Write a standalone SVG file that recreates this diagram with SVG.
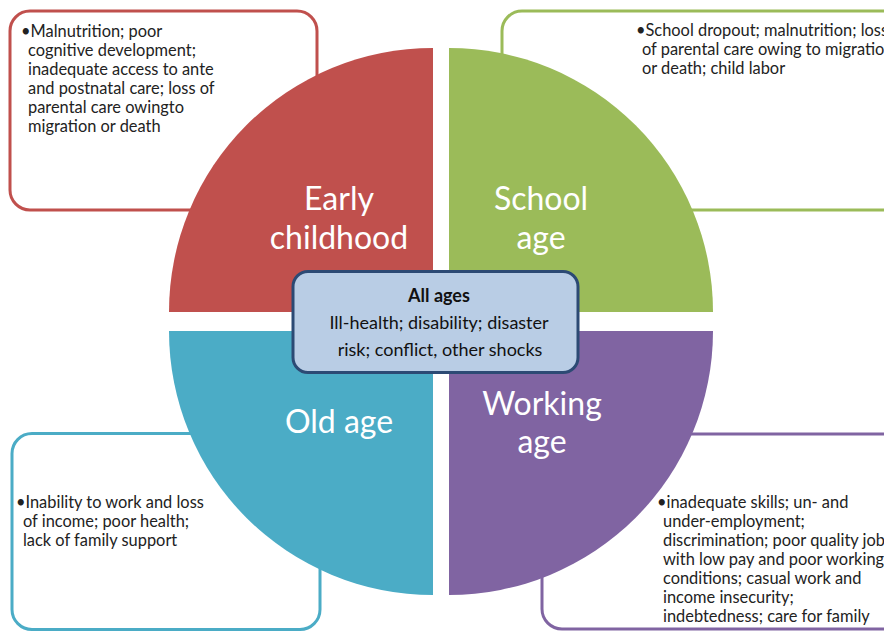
<svg xmlns="http://www.w3.org/2000/svg" width="884" height="633" viewBox="0 0 884 633">
  <style>
    .box { fill: #ffffff; stroke-width: 3; }
    .note { font-family: Lato, "Open Sans", "Liberation Sans", sans-serif; font-size: 16.4px; fill: #222222; }
    .label { font-family: Lato, "Open Sans", "Liberation Sans", sans-serif; font-size: 32px; fill: #ffffff; text-anchor: middle; }
    .core { font-family: Lato, "Open Sans", "Liberation Sans", sans-serif; font-size: 18px; fill: #111111; text-anchor: middle; }
  </style>

  <!-- outlined note boxes behind the wheel -->
  <g id="note-early">
    <rect class="box" x="10" y="11" width="307" height="199" rx="20" stroke="#c0504d"/>
    <text class="note">
      <tspan x="21" y="36.5">•Malnutrition; poor</tspan>
      <tspan x="28" y="55.5">cognitive development;</tspan>
      <tspan x="28" y="74.5">inadequate access to ante</tspan>
      <tspan x="28" y="93.5">and postnatal care; loss of</tspan>
      <tspan x="28" y="112.5">parental care owingto</tspan>
      <tspan x="28" y="131.5">migration or death</tspan>
    </text>
  </g>
  <g id="note-school">
    <rect class="box" x="502" y="11" width="420" height="199" rx="20" stroke="#9bbb59"/>
    <text class="note">
      <tspan x="636" y="36">•School dropout; malnutrition; loss</tspan>
      <tspan x="642" y="55">of parental care owing to migration</tspan>
      <tspan x="642" y="74">or death; child labor</tspan>
    </text>
  </g>
  <g id="note-old">
    <rect class="box" x="12" y="433.5" width="308" height="196" rx="20" stroke="#4bacc6"/>
    <text class="note">
      <tspan x="16" y="508">•Inability to work and loss</tspan>
      <tspan x="23" y="527">of income; poor health;</tspan>
      <tspan x="23" y="546">lack of family support</tspan>
    </text>
  </g>
  <g id="note-working">
    <rect class="box" x="542" y="434" width="380" height="195" rx="20" stroke="#8064a2"/>
    <text class="note">
      <tspan x="657" y="507.5">•inadequate skills; un- and</tspan>
      <tspan x="663" y="526.5">under-employment;</tspan>
      <tspan x="663" y="545.5">discrimination; poor quality jobs</tspan>
      <tspan x="663" y="564.5">with low pay and poor working</tspan>
      <tspan x="663" y="583.5">conditions; casual work and</tspan>
      <tspan x="663" y="602.5">income insecurity;</tspan>
      <tspan x="663" y="621.5">indebtedness; care for family</tspan>
    </text>
  </g>

  <!-- four quarter segments of the life-cycle wheel -->
  <g id="early-childhood">
    <path d="M433 312 L169 312 A264 264 0 0 1 433 48 Z" fill="#c0504d"/>
    <text class="label"><tspan x="339" y="210">Early</tspan><tspan x="339" y="249">childhood</tspan></text>
  </g>
  <g id="school-age">
    <path d="M449 312 L449 48 A264 264 0 0 1 713 312 Z" fill="#9bbb59"/>
    <text class="label"><tspan x="541" y="210">School</tspan><tspan x="541" y="249">age</tspan></text>
  </g>
  <g id="old-age">
    <path d="M433 331 L433 595 A264 264 0 0 1 169 331 Z" fill="#4bacc6"/>
    <text class="label" x="339" y="433">Old age</text>
  </g>
  <g id="working-age">
    <path d="M449 331 L713 331 A264 264 0 0 1 449 595 Z" fill="#8064a2"/>
    <text class="label"><tspan x="542" y="415">Working</tspan><tspan x="542" y="453">age</tspan></text>
  </g>

  <!-- centre box: risks across all ages -->
  <g id="all-ages">
    <rect x="293" y="271.5" width="285" height="101" rx="15" fill="#b9cde5" stroke="#2c4a74" stroke-width="3"/>
    <text class="core" x="439" y="302" font-weight="bold" font-size="16.5">All ages</text>
    <text class="core" x="439" y="329">Ill-health; disability; disaster</text>
    <text class="core" x="440" y="355.5">risk; conflict, other shocks</text>
  </g>
</svg>
